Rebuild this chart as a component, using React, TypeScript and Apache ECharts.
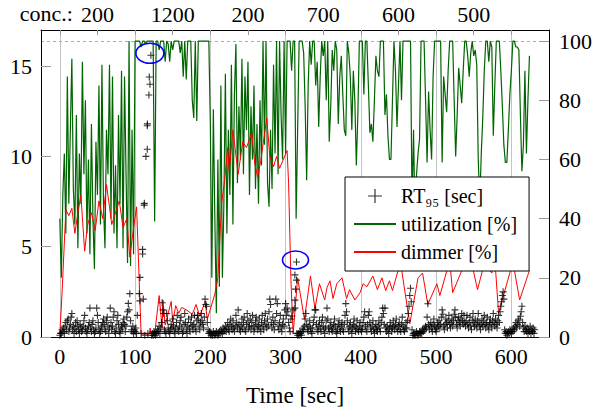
import React, { useEffect, useRef } from 'react';
import * as echarts from 'echarts';

const FONT = 'Liberation Serif';

// ---- axes ----
const timeTicks = [0, 100, 200, 300, 400, 500, 600];
const topTicks = [0, 50, 100, 150, 200, 250, 300, 350, 400, 450, 500, 550, 600];
const concPositions = [50, 150, 250, 350, 450, 550];
const concLabels = ['200', '1200', '200', '700', '600', '500'];
const rtTicks = [0, 5, 10, 15];
const pctTicks = [0, 20, 40, 60, 80, 100];

// ---- utilization [%], one sample every 2 s starting at t = 0 ----
const utilStep = 2;
const utilization = [
  40, 20, 48, 62, 35, 88, 45, 70, 94, 50,
  38, 75, 30, 62, 45, 93, 55, 80, 35, 60,
  28, 72, 40, 23, 66, 48, 85, 38, 92, 45,
  30, 70, 55, 92, 40, 88, 35, 58, 30, 75,
  45, 90, 30, 88, 55, 25, 100, 24, 70, 28,
  100, 100, 100, 100, 98, 100, 100, 99, 100, 100,
  100, 100, 100, 39, 100, 100, 97, 100, 100, 100,
  93, 100, 99, 93, 100, 97, 100, 100, 100, 100,
  96, 100, 88, 100, 87, 100, 100, 100, 80, 74,
  100, 73, 100, 100, 100, 100, 100, 100, 100, 100,
  72, 20, 77, 40, 8, 60, 17, 85, 20, 45,
  89, 35, 70, 48, 92, 38, 82, 99, 52, 78,
  60, 94, 55, 88, 70, 93, 48, 78, 60, 85,
  50, 72, 45, 80, 58, 100, 65, 100, 52, 44,
  70, 50, 92, 62, 100, 55, 100, 75, 60, 100,
  62, 100, 100, 100, 90, 100, 100, 40, 70, 100,
  100, 100, 96, 78, 53, 85, 100, 92, 100, 100,
  85, 93, 71, 88, 100, 95, 100, 80, 100, 66,
  78, 97, 90, 100, 97, 72, 88, 95, 82, 70,
  68, 100, 96, 88, 70, 90, 80, 58, 75, 100,
  100, 100, 82, 100, 100, 85, 69, 72, 66, 80,
  95, 90, 88, 100, 100, 100, 75, 82, 68, 60,
  60, 80, 100, 90, 71, 85, 100, 80, 100, 100,
  100, 100, 100, 100, 45, 70, 38, 55, 62, 67,
  100, 100, 100, 80, 59, 83, 70, 60, 88, 100,
  100, 100, 100, 100, 59, 88, 82, 76, 90, 100,
  100, 100, 80, 61, 75, 91, 85, 79, 90, 100,
  100, 95, 88, 96, 100, 95, 97, 92, 60, 45,
  62, 74, 90, 100, 100, 93, 100, 98, 68, 85,
  100, 100, 100, 90, 78, 65, 59, 59, 70, 82,
  90, 100, 100, 98, 98, 97, 75, 56, 65, 90,
  62, 80, 95,
];

// ---- dimmer [%] ----
const dimmerTime = [
  0, 3, 8, 12, 16, 20, 24, 28, 33, 37, 42, 47, 52, 57, 62, 66, 69, 74, 79, 84, 89, 93, 97, 102, 108,
  119, 120, 121, 126, 132, 136, 137, 140, 148, 150, 154, 158, 162, 169, 176, 181, 186, 193, 196, 206,
  210, 215, 219, 223, 225, 230, 237, 243, 248, 255, 259, 263, 267, 275, 279, 284, 288, 292, 302, 304,
  307, 310, 316, 325, 333, 339, 345, 352, 355, 359, 363, 368, 375, 381, 385, 392, 399, 403, 408, 416,
  422, 428, 433, 438, 442, 449, 454, 465, 476, 482, 489, 501, 505, 518, 522, 535, 542, 549, 555, 564,
  574, 578, 583, 595, 602, 611, 624,
];
const dimmerValue = [
  1, 15, 43, 41, 43.5, 35, 42, 48, 29, 38, 42, 36, 46, 40, 51.5, 44, 38, 42, 46, 37, 40, 27, 35, 44, 1,
  1, 3, 1, 1, 14, 3, 12.5, 4, 12, 5, 10.6, 8, 10, 9, 7.7, 11, 7, 12, 6, 14.5,
  20, 45, 53, 64, 56, 70, 55, 66, 64, 69, 58.6, 54, 59.6, 74, 61, 57.6, 61, 57, 63, 52,
  20, 1, 20, 6, 20.6, 9.6, 18, 12.5, 16.7, 19, 13, 18, 20, 13, 16, 12.5, 15, 18, 17, 20.6,
  16, 20, 15.7, 19, 15.7, 22, 23, 4.5, 20, 21.6, 11, 18, 14, 25.8, 15, 23, 24.8, 23, 16, 24.8,
  21.6, 26.4, 8, 19, 25.4, 12.5, 22.5,
];

// ---- RT95 [sec], one sample per second starting at t = 0 (null = no sample) ----
const rtValues = [
  0.1, 0.2, 0.2, 0.4, 0.3, 0.5, 0.2, 0.6, 0.8, 0.4, 0.9, 1.0, 0.3, 0.5, 0.7, 1.1, 1.3, 0.4, 0.6, 0.2,
  0.5, 0.8, 0.3, 0.9, 0.6, 0.4, 0.2, 0.7, 0.5, 0.3, 0.4, 0.6, 0.9, 1.2, 0.5, 0.3, 0.2, 0.4, 0.6, 0.8,
  1.6, 0.5, 0.3, 0.7, 0.9, 0.4, 0.2, 0.3, 0.5, 1.6, 1.2, 0.8, 0.4, 0.2, 0.3, 0.6, 0.5, 0.8, 1.0, 0.7,
  0.4, 0.3, 0.9, 1.1, 0.6, 0.2, 0.5, 1.6, 0.8, 0.4, 0.6, 1.1, 1.4, 0.3, 0.2, 0.5, 0.9, 1.2, 0.7, 0.3,
  0.2, 0.4, 0.6, 0.5, 0.8, 1.0, 0.7, 0.3, 0.6, 1.1, 1.4, 1.86, 1.5, 2.4, 0.9, 0.4, 0.3, 0.6, 0.2, 0.4,
  0.3, 0.5, 0.2, 1.2, null, null, null, null, 0.2, null, null, null, null, 0.1, null, null, null, 0.2, null, null,
  null, null, 0.1, 0.2, 0.1, 0.3, 0.2, 0.1, 0.3, 0.2, 0.4, 0.3, 0.6, 0.2, 0.5, 0.8, 1.9, 1.5, 1.3, 0.4,
  0.3, 0.2, 1.3, 0.9, 0.5, 0.3, 0.2, 0.4, 0.7, 0.5, 1.0, 0.6, 0.3, 0.2, 0.5, 0.8, 1.2, 0.4, 0.3, 0.6,
  0.9, 1.1, 0.5, 0.2, 0.3, 0.7, 1.3, 0.8, 0.4, 0.2, 0.6, 1.0, 0.5, 0.3, 0.8, 1.1, 0.6, 0.4, 0.7, 1.2,
  0.5, 0.3, 0.9, 1.2, 1.0, 0.6, 0.4, 0.8, 1.3, 0.9, 0.7, 0.5, 1.1, 2.1, 1.8, 1.7, 0.8, 0.4, 0.2, 0.3,
  0.2, 0.1, 0.2, 0.1, 0.3, 0.2, 0.1, 0.2, 0.3, 0.2, 0.1, 0.2, 0.3, 0.2, 0.4, 0.3, 0.2, 0.5, 0.3, 0.4,
  0.6, 0.3, 0.5, 0.8, 0.4, 0.3, 0.7, 1.0, 0.6, 0.4, 0.9, 0.5, 0.3, 0.6, 1.2, 0.8, 0.5, 1.5, 0.7, 0.4,
  0.3, 0.6, 1.0, 0.5, 0.8, 1.1, 0.4, 0.3, 0.7, 1.3, 0.9, 0.5, 0.6, 1.0, 0.4, 0.8, 1.2, 0.6, 0.3, 0.5,
  0.9, 1.1, 0.7, 0.4, 0.6, 1.0, 0.5, 0.3, 0.8, 1.2, 0.6, 0.4, 0.9, 1.3, 0.7, 0.5, 1.0, 0.6, 1.4, 2.1,
  1.8, 0.8, 0.5, 1.1, 0.7, 0.4, 0.9, 2.1, 1.3, 1.85, 0.6, 0.4, 0.8, 1.2, 0.5, 0.3, 0.7, 1.0, 0.6, 1.5,
  1.85, 1.2, 1.6, 1.4, 0.8, 0.5, 0.3, 1.0, null, null, null, null, null, null, null, 0.2, 0.1, 0.2, 0.1, 0.3,
  0.2, 0.1, 0.3, 0.5, 0.4, 0.6, 1.0, 1.3, 0.7, 0.4, 0.3, 0.6, 0.9, 0.5, 0.3, 0.2, 0.5, 0.8, 1.1, 1.5,
  1.5, 0.7, 0.4, 0.3, 0.6, 0.9, 0.5, 0.3, 0.8, 1.1, 0.6, 0.4, 0.2, 0.5, 0.9, 1.6, 1.0, 0.5, 0.3, 0.6,
  0.8, 0.4, 0.3, 0.5, 0.7, 1.0, 0.6, 0.3, 0.2, 0.4, 0.7, 0.9, 0.5, 0.3, 0.6, 0.8, 0.4, 0.3, 0.7, 1.2,
  1.85, 1.4, 0.9, 0.5, 0.3, 0.6, 0.8, 0.4, 0.2, 0.5, 0.7, 1.0, 0.6, 0.3, 0.5, 0.9, 0.4, 0.3, 0.6, 0.8,
  0.4, 0.3, 0.5, 0.8, 1.1, 1.4, 0.6, 0.4, 0.3, 0.7, 1.2, 1.4, 0.8, 0.5, 0.3, 0.6, 0.9, 0.4, 0.2, 0.5,
  0.7, 0.4, 0.3, 0.6, 0.9, 0.5, 0.3, 0.8, 1.1, 1.6, 1.3, 0.7, 1.6, 0.5, 0.3, 0.6, 0.4, 0.2, 0.5, 0.8,
  0.6, 0.3, 0.5, 0.9, 0.6, 0.4, 0.7, 1.0, 0.5, 0.3, 0.6, 0.8, 0.4, 0.3, 0.7, 1.1, 0.6, 0.4, 0.3, 0.5,
  0.8, 0.5, 0.9, 1.3, 1.7, 2.3, 2.7, 1.95, 0.4, 0.1, 0.2, 0.1, 0.2, 0.1, 0.3, 0.2, 0.1, 0.2, 0.3, 0.2,
  0.3, 0.2, 0.4, 0.3, 0.5, 0.4, 0.6, 0.5, 1.1, 1.84, 0.7, 0.4, 0.6, 0.8, 0.5, 0.3, 0.7, 1.0, 0.6, 0.4,
  0.3, 0.5, 0.8, 0.6, 0.9, 0.5, 0.7, 1.1, 1.5, 1.26, 0.6, 0.4, 0.7, 1.0, 0.8, 0.5, 0.9, 1.2, 0.7, 0.5,
  0.8, 1.0, 0.6, 0.9, 1.26, 1.5, 1.1, 0.7, 0.5, 0.9, 1.1, 0.8, 0.6, 1.0, 1.3, 0.9, 0.7, 1.2, 0.8, 0.6,
  0.9, 1.2, 0.7, 0.5, 0.8, 1.1, 0.6, 0.4, 0.9, 1.3, 0.8, 0.6, 1.0, 0.7, 0.5, 0.9, 1.3, 0.8, 0.6, 0.4,
  0.7, 1.0, 0.6, 0.9, 1.2, 0.7, 0.5, 0.8, 1.1, 0.6, 0.4, 0.8, 1.0, 0.7, 0.5, 0.9, 1.3, 0.8, 0.6, 1.0,
  0.7, 0.5, 0.9, 1.2, 0.8, 1.4, 1.7, 1.95, 2.3, 2.5, 2.1, 0.4, 0.2, 0.3, 0.1, 0.2, 0.3, 0.2, 0.4, 0.3,
  0.2, 0.4, 0.3, 0.5, 0.4, 0.6, 0.8, 0.5, 0.7, 0.9, 1.0, 0.6, 1.15, 1.4, 1.7, 0.8, 0.5, 0.3, 0.6, 0.4,
  0.3, 0.5, 0.2, 0.4, 0.3, 0.6, 0.2, 0.4, 0.3, 0.5, 0.2, 0.4,
];

// ---- RT95 spikes (irregular sampling) ----
const rtSpikeTime = [
  105.6, 106.5, 106.5, 110, 110, 110.9, 112, 112.3, 114.4, 116.2, 116.2, 116.4, 118.4, 118.9, 119.8, 121,
  308.3, 310, 312.3, 312.3, 313.2, 312.3, 314.5, 314.5,
];
const rtSpikeValue = [
  2.4, 3.3, 2.0, 4.85, 4.6, 2.1, 7.3, 7.4, 10.0, 10.4, 11.7, 11.8, 13.4, 14.4, 14.0, 15.6,
  1.16, 1.5, 1.6, 2.04, 2.65, 3.44, 3.15, 4.15,
];
const circledSpikes = [15, 23];

const PLUS = 'path://M0,5L10,5M5,0L5,10';

export default function App() {
  const ref = useRef<HTMLDivElement>(null);

  useEffect(() => {
    if (!ref.current) return;
    const chart = echarts.init(ref.current, undefined, { renderer: 'svg' });

    const utilData = utilization.map((v, i) => [i * utilStep, v]);
    const dimmerData = dimmerTime.map((t, i) => [t, dimmerValue[i]]);
    const rtData: number[][] = [];
    rtValues.forEach((v, i) => {
      if (v !== null) rtData.push([i, v]);
    });
    rtSpikeTime.forEach((t, i) => rtData.push([t, rtSpikeValue[i]]));

    const option: any = {
      animation: false,
      grid: { left: 41, right: 50, top: 30, bottom: 60 },
      legend: {
        orient: 'vertical',
        left: 345,
        top: 177,
        padding: [9, 12, 9, 8],
        itemGap: 8,
        itemWidth: 42,
        itemHeight: 14,
        backgroundColor: '#fff',
        borderColor: '#000',
        borderWidth: 1,
        selectedMode: false,
        data: [
          { name: 'RT95', icon: PLUS, itemStyle: { color: 'rgba(0,0,0,0)', borderColor: '#000', borderWidth: 1.2 } },
          { name: 'utilization [%]', itemStyle: { opacity: 0 } },
          { name: 'dimmer [%]', itemStyle: { opacity: 0 } },
        ],
        formatter: (name: string) => (name === 'RT95' ? 'RT\u2089\u2085 [sec]' : name),
        textStyle: { fontFamily: FONT, fontSize: 20, color: '#000' },
      },
      xAxis: [
        {
          type: 'value',
          min: -25,
          max: 650,
          axisLine: { onZero: false, lineStyle: { color: '#000' } },
          axisTick: { show: false },
          axisLabel: { fontFamily: FONT, fontSize: 22, color: '#000', customValues: timeTicks, margin: 8 },
          splitLine: { show: false },
          name: 'Time [sec]',
          nameLocation: 'middle',
          nameGap: 47,
          nameTextStyle: { fontFamily: FONT, fontSize: 23, color: '#000' },
        },
        {
          type: 'value',
          position: 'top',
          min: -25,
          max: 650,
          axisLine: { onZero: false, lineStyle: { color: '#000' } },
          axisTick: { show: true, inside: true, length: 5, customValues: topTicks, lineStyle: { color: '#999' } },
          axisLabel: {
            fontFamily: FONT,
            fontSize: 22,
            color: '#000',
            customValues: concPositions,
            margin: 5,
            formatter: (v: number) => concLabels[concPositions.indexOf(v)] ?? '',
          },
          splitLine: { show: false },
        },
      ],
      yAxis: [
        {
          type: 'value',
          min: 0,
          max: 17,
          axisLine: { show: true, onZero: false, lineStyle: { color: '#000' } },
          axisTick: { show: true, inside: true, length: 10, customValues: rtTicks, lineStyle: { color: '#999' } },
          axisLabel: { fontFamily: FONT, fontSize: 22, color: '#000', customValues: rtTicks, margin: 9 },
          splitLine: { show: false },
        },
        {
          type: 'value',
          position: 'right',
          min: 0,
          max: 103.75,
          axisLine: { show: true, onZero: false, lineStyle: { color: '#000' } },
          axisTick: { show: true, inside: true, length: 10, customValues: pctTicks, lineStyle: { color: '#999' } },
          axisLabel: { fontFamily: FONT, fontSize: 22, color: '#000', customValues: pctTicks, margin: 10 },
          splitLine: { show: false },
        },
      ],
      graphic: [
        {
          id: 'conc',
          type: 'text',
          silent: true,
          x: 73,
          y: 13,
          style: { text: 'conc.:', align: 'right', verticalAlign: 'middle', fontFamily: FONT, fontSize: 22, fill: '#000' },
        },
      ],
      series: [
        {
          name: 'gridlines',
          type: 'line',
          yAxisIndex: 1,
          data: [],
          silent: true,
          z: 0,
          markLine: {
            silent: true,
            z: 0,
            symbol: ['none', 'none'],
            label: { show: false },
            lineStyle: { color: '#c4c4c4', width: 1, type: 'solid' },
            data: [
              ...timeTicks.map((v) => ({ xAxis: v })),
              { yAxis: 100, lineStyle: { color: '#aaaaaa', width: 1, type: [3, 3] } },
            ],
          },
        },
        {
          name: 'RT95',
          type: 'scatter',
          yAxisIndex: 0,
          data: rtData,
          symbol: PLUS,
          symbolSize: 7,
          itemStyle: { color: 'rgba(0,0,0,0)', borderColor: '#000', borderWidth: 1.1 },
          silent: true,
          z: 3,
        },
        {
          name: 'utilization [%]',
          type: 'line',
          yAxisIndex: 1,
          data: utilData,
          symbol: 'none',
          lineStyle: { color: '#006400', width: 1.2 },
          itemStyle: { color: '#006400' },
          silent: true,
          z: 2,
        },
        {
          name: 'dimmer [%]',
          type: 'line',
          yAxisIndex: 1,
          data: dimmerData,
          symbol: 'none',
          lineStyle: { color: '#ff0000', width: 1 },
          itemStyle: { color: '#ff0000' },
          silent: true,
          z: 2,
        },
      ],
    };

    chart.setOption(option);

    const ellipses = circledSpikes.map((idx, k) => {
      const p = chart.convertToPixel({ seriesIndex: 1 }, [rtSpikeTime[idx], rtSpikeValue[idx]]) as number[];
      return {
        id: 'ellipse' + k,
        type: 'ellipse',
        silent: true,
        z: 20,
        shape: { cx: p[0] - 1, cy: p[1] - 2, rx: k === 0 ? 14 : 13, ry: k === 0 ? 10 : 9 },
        style: { fill: 'none', stroke: '#0000ff', lineWidth: 1.6 },
      };
    });
    chart.setOption({ graphic: ellipses });

    return () => chart.dispose();
  }, []);

  return (
    <div
      ref={ref}
      style={{ position: 'fixed', left: 0, top: 0, width: 599, height: 412, background: '#fff' }}
    />
  );
}
